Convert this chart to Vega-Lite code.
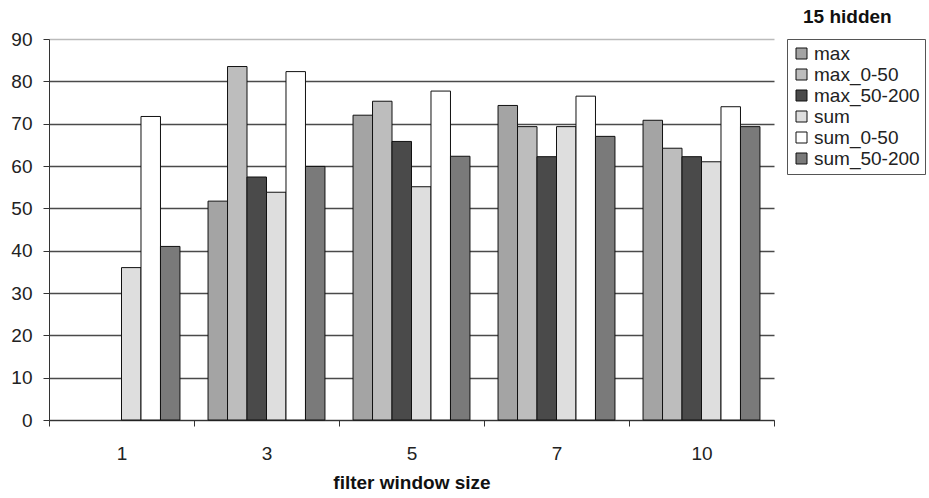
{
  "$schema": "https://vega.github.io/schema/vega-lite/v6.json",
  "autosize": "none",
  "width": 725,
  "height": 381,
  "padding": {"left": 49, "top": 39, "right": 155, "bottom": 78},
  "background": "white",
  "title": {"text": "15 hidden", "anchor": "start", "frame": "group", "dx": 754, "offset": 3, "font": "Liberation Sans", "fontSize": 19, "fontWeight": "bold", "color": "#111"},
  "data": {"values": [
    {"w": "1", "s": "sum", "v": 36.0},
    {"w": "1", "s": "sum_0-50", "v": 71.7},
    {"w": "1", "s": "sum_50-200", "v": 41.0},
    {"w": "3", "s": "max", "v": 51.7},
    {"w": "3", "s": "max_0-50", "v": 83.5},
    {"w": "3", "s": "max_50-200", "v": 57.4},
    {"w": "3", "s": "sum", "v": 53.8},
    {"w": "3", "s": "sum_0-50", "v": 82.3},
    {"w": "3", "s": "sum_50-200", "v": 59.9},
    {"w": "5", "s": "max", "v": 72.0},
    {"w": "5", "s": "max_0-50", "v": 75.3},
    {"w": "5", "s": "max_50-200", "v": 65.8},
    {"w": "5", "s": "sum", "v": 55.1},
    {"w": "5", "s": "sum_0-50", "v": 77.7},
    {"w": "5", "s": "sum_50-200", "v": 62.3},
    {"w": "7", "s": "max", "v": 74.3},
    {"w": "7", "s": "max_0-50", "v": 69.3},
    {"w": "7", "s": "max_50-200", "v": 62.2},
    {"w": "7", "s": "sum", "v": 69.3},
    {"w": "7", "s": "sum_0-50", "v": 76.5},
    {"w": "7", "s": "sum_50-200", "v": 67.0},
    {"w": "10", "s": "max", "v": 70.8},
    {"w": "10", "s": "max_0-50", "v": 64.2},
    {"w": "10", "s": "max_50-200", "v": 62.2},
    {"w": "10", "s": "sum", "v": 61.0},
    {"w": "10", "s": "sum_0-50", "v": 74.0},
    {"w": "10", "s": "sum_50-200", "v": 69.3}
  ]},
  "mark": {"type": "bar", "stroke": "#111", "strokeWidth": 1},
  "encoding": {
    "x": {"field": "w", "type": "nominal", "sort": ["1", "3", "5", "7", "10"],
      "scale": {"paddingInner": 0, "paddingOuter": 0},
      "axis": {"title": "filter window size", "labelAngle": 0, "tickBand": "extent", "domainColor": "#333", "tickColor": "#333", "tickSize": 6, "labelPadding": 18, "labelFontSize": 19, "titleFontSize": 19, "titleFontWeight": "bold", "titlePadding": 10, "labelColor": "#222", "titleColor": "#111"}},
    "xOffset": {"field": "s", "type": "nominal",
      "scale": {"domain": ["max", "max_0-50", "max_50-200", "sum", "sum_0-50", "sum_50-200"], "paddingInner": 0, "paddingOuter": 0.72}},
    "y": {"field": "v", "type": "quantitative",
      "scale": {"domain": [0, 90], "nice": false},
      "axis": {"title": null, "values": [0, 10, 20, 30, 40, 50, 60, 70, 80, 90], "tickColor": "#333", "tickSize": 6, "domainColor": "#333", "labelFontSize": 19, "labelPadding": 11, "labelColor": "#222",
        "gridColor": {"condition": {"test": "datum.value === 90", "value": "#bbbbbb"}, "value": "#4a4a4a"}}},
    "color": {"field": "s", "type": "nominal",
      "scale": {"domain": ["max", "max_0-50", "max_50-200", "sum", "sum_0-50", "sum_50-200"],
        "range": ["#a4a4a4", "#bdbdbd", "#4a4a4a", "#dedede", "#ffffff", "#7a7a7a"]},
      "legend": {"title": null, "orient": "none", "legendX": 738, "legendY": 0, "symbolType": "square", "symbolSize": 121, "symbolStrokeColor": "#111", "symbolStrokeWidth": 1, "labelFontSize": 19, "labelColor": "#222", "rowPadding": 1, "padding": 5, "strokeColor": "#555", "fillColor": "white", "labelOffset": 3}}
  },
  "config": {
    "font": "Liberation Sans",
    "view": {"stroke": null},
    "axis": {"grid": true, "gridWidth": 1.3},
    "axisX": {"grid": false}
  }
}
